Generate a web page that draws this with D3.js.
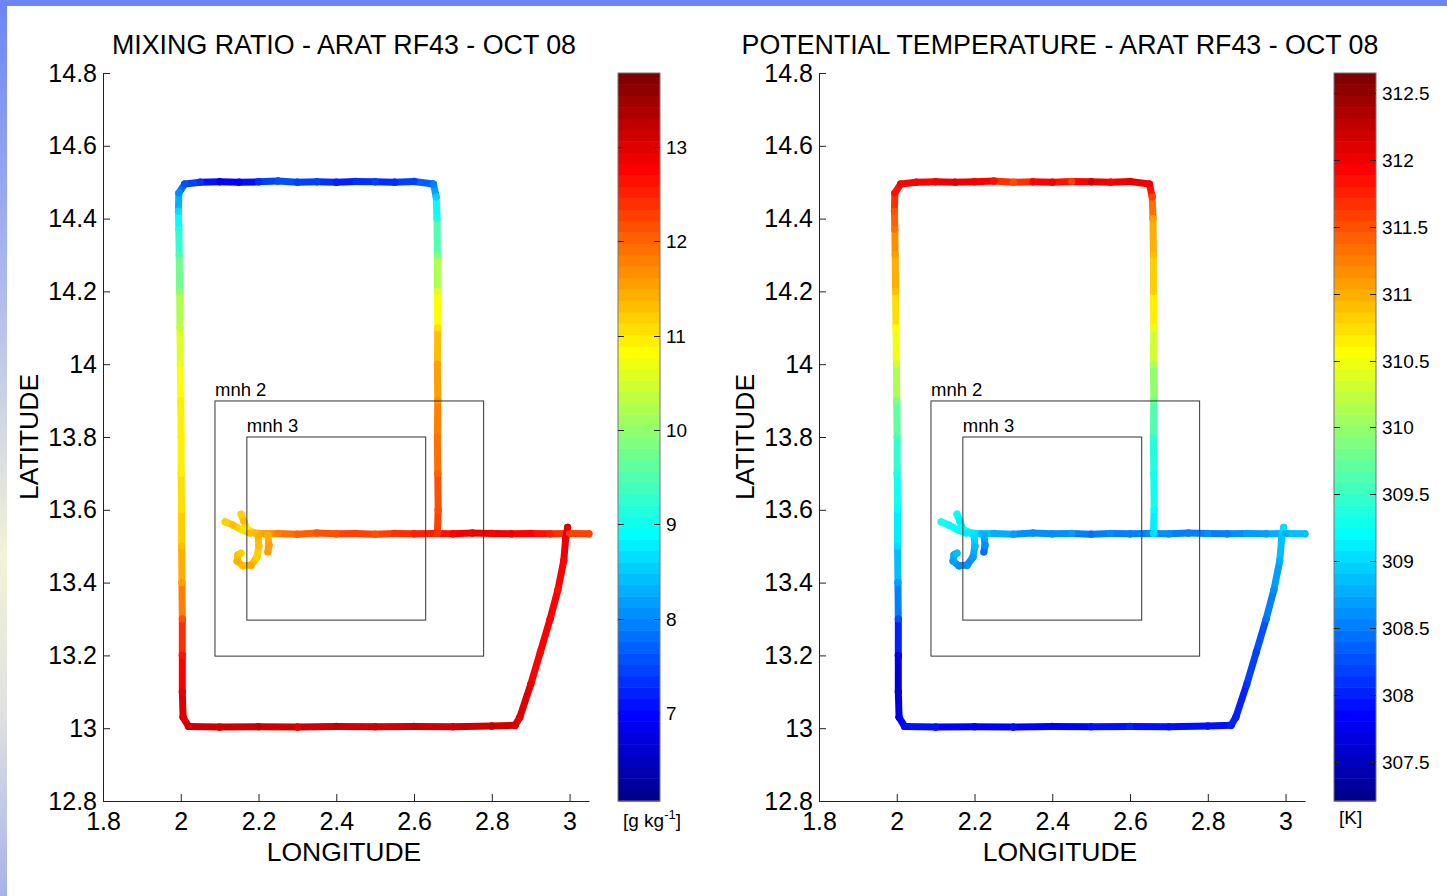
<!DOCTYPE html>
<html>
<head>
<meta charset="utf-8">
<script src="https://cdn.jsdelivr.net/npm/d3@7"></script>
<style>
  body { margin: 0; background: #fff; }
  svg { display: block; font-family: "Liberation Sans", Arial, Helvetica, sans-serif; }
</style>
</head>
<body>
<svg id="chart" width="1447" height="896"></svg>
<script>
// ---- Flight track (ARAT RF43, 8 Oct) ----
// leg id: consecutive samples with the same id are joined
const legId = [
  0,0,0,0,0,0,0,0,0,0,0,0,0,0,0,0,0,0,0,0,0,0,
  1,1,1,1,
  2,2,2,2,2,2,2,2,
  3,3,3,
  4,4,4,4,4,4,4,4,4,4,4,4,
  4,4,4,4,4,4,4,4,4,4,4,4,4,
  4,4,4,4,4,4,4,4,4,4,4,4,4,4,4,4,4,4,
  4,4,4,4,4,4,4,4,4,
  4,4,4,4,4,4,4,4
];
const trackLon = [
  2.155,2.162,2.170,2.191,2.217,2.25,2.30,2.35,2.40,2.45,2.50,2.55,2.60,2.65,2.70,2.75,2.80,2.85,2.90,2.95,3.00,3.05,
  2.114,2.134,2.157,2.178,
  2.199,2.201,2.196,2.181,2.160,2.145,2.147,2.155,
  2.224,2.227,2.224,
  2.660,2.662,2.661,2.660,2.661,2.660,2.661,2.660,2.660,2.659,2.657,2.650,
  2.60,2.55,2.50,2.45,2.40,2.35,2.30,2.25,2.20,2.15,2.10,2.05,2.01,
  1.995,1.994,1.995,1.996,1.997,1.998,1.999,2.000,2.001,2.001,2.002,2.002,2.003,2.004,2.004,2.004,2.006,2.02,
  2.10,2.20,2.30,2.40,2.50,2.60,2.70,2.80,2.86,
  2.872,2.90,2.925,2.95,2.97,2.985,2.990,2.995
];
const trackLat = [
  13.588,13.569,13.547,13.536,13.534,13.535,13.533,13.536,13.534,13.535,13.533,13.535,13.534,13.535,13.534,13.536,13.535,13.534,13.535,13.534,13.535,13.534,
  13.567,13.558,13.545,13.536,
  13.528,13.500,13.470,13.448,13.446,13.459,13.476,13.481,
  13.530,13.503,13.484,
  13.535,13.60,13.70,13.80,13.90,14.00,14.10,14.20,14.30,14.40,14.46,14.495,
  14.502,14.500,14.501,14.502,14.500,14.501,14.500,14.503,14.501,14.500,14.501,14.500,14.495,
  14.47,14.42,14.37,14.30,14.20,14.10,14.00,13.90,13.80,13.70,13.60,13.50,13.40,13.30,13.20,13.10,13.03,13.005,
  13.003,13.004,13.003,13.005,13.004,13.005,13.004,13.006,13.008,
  13.03,13.12,13.21,13.30,13.38,13.46,13.52,13.552
];
// water vapour mixing ratio [g/kg]
const mixingRatio = [
  11.2,11.3,10.9,11.3,11.6,11.8,12.0,12.1,12.2,12.3,12.2,12.4,12.5,12.5,12.8,12.9,12.8,12.9,12.7,12.5,12.3,12.3,
  11.2,11.3,11.1,11.3,
  11.4,11.3,11.2,11.4,11.3,11.4,11.3,11.2,
  11.4,11.5,11.6,
  12.4,12.2,12.0,11.9,11.7,11.5,11.1,10.6,9.9,9.2,8.5,7.9,
  7.5,7.3,7.4,7.3,7.2,7.4,7.5,7.6,7.3,7.0,6.9,7.3,7.6,
  8.0,8.6,9.1,9.5,10.0,10.4,10.7,10.9,10.9,11.0,11.1,11.3,11.6,12.1,12.6,12.9,13.0,13.1,
  13.1,13.2,13.0,13.2,13.1,13.2,13.1,13.2,13.1,
  13.0,12.9,12.7,12.8,12.6,12.8,12.9,13.0
];
// potential temperature [K]
const thetaK = [
  309.2,309.1,309.3,309.1,308.9,308.8,308.7,308.6,308.6,308.7,308.4,308.6,308.5,308.6,308.6,308.5,308.6,308.5,308.7,308.7,308.8,308.9,
  309.3,309.2,309.2,309.1,
  309.0,308.9,308.7,308.6,308.6,308.7,308.8,308.9,
  308.8,308.6,308.4,
  309.0,309.2,309.3,309.5,309.8,310.1,310.5,310.8,310.9,311.1,311.6,312.0,
  312.1,311.9,312.2,311.6,312.0,311.9,311.5,311.8,312.0,312.1,312.0,311.9,311.9,
  311.8,311.5,311.3,311.1,310.9,310.6,310.3,309.9,309.6,309.4,309.2,309.0,308.7,308.3,307.8,307.6,307.8,307.9,
  307.9,307.8,307.9,307.8,307.9,308.0,307.9,307.9,308.0,
  308.0,308.1,308.2,308.4,308.6,308.8,308.9,309.0
];

// ---- Model domains ----
const domainNames  = ["mnh 2", "mnh 3"];
const domainLonMin = [2.088, 2.170];
const domainLonMax = [2.779, 2.630];
const domainLatMin = [13.198, 13.297];
const domainLatMax = [13.899, 13.800];

// ---- Axes ticks ----
const lonTicks = [1.8, 2, 2.2, 2.4, 2.6, 2.8, 3];
const latTicks = [12.8, 13, 13.2, 13.4, 13.6, 13.8, 14, 14.2, 14.4, 14.6, 14.8];
const lonDomain = [1.8, 3.05];
const latDomain = [12.8, 14.8];

// ---- Colour bars ----
const mrRange = [6.067, 13.784];
const mrTicks = [7, 8, 9, 10, 11, 12, 13];
const thRange = [307.209, 312.649];
const thTicks = [307.5, 308, 308.5, 309, 309.5, 310, 310.5, 311, 311.5, 312, 312.5];

// 64-level jet colormap
function jetLevel(k) { // k = 1..64
  const r = k <= 24 ? 0 : k <= 40 ? (k - 24) / 16 : k <= 55 ? 1 : (16 - (k - 56)) / 16;
  const g = k <= 8 ? 0 : k <= 24 ? (k - 8) / 16 : k <= 39 ? 1 : k <= 55 ? (16 - (k - 40)) / 16 : 0;
  const b = k <= 8 ? (k + 8) / 16 : k <= 23 ? 1 : k <= 39 ? (16 - (k - 24)) / 16 : 0;
  return d3.rgb(Math.round(r * 255), Math.round(g * 255), Math.round(b * 255)).formatHex();
}
const jet = d3.range(1, 65).map(jetLevel);
const jetScale = range => d3.scaleQuantize().domain(range).range(jet);

const svg = d3.select("#chart");

// slide frame
const defs = svg.append("defs");
const grad = defs.append("linearGradient").attr("id", "frameGrad")
  .attr("x1", 0).attr("y1", 0).attr("x2", 0).attr("y2", 1);
[[0, "#6b85f4"], [0.3, "#aab6ee"], [0.62, "#f3f3d8"], [0.8, "#dfe0e0"], [1, "#a6b2ec"]]
  .forEach(([o, c]) => grad.append("stop").attr("offset", o).attr("stop-color", c));
svg.append("rect").attr("x", 0).attr("y", 0).attr("width", 7).attr("height", 896).attr("fill", "url(#frameGrad)");
svg.append("rect").attr("x", 0).attr("y", 0).attr("width", 1447).attr("height", 6).attr("fill", "#6d86f3");

const panels = [
  { left: 103, right: 589, cbLeft: 618, cbRight: 660,
    title: "MIXING RATIO - ARAT RF43 - OCT 08", values: mixingRatio,
    range: mrRange, ticks: mrTicks, unit: "g" },
  { left: 819, right: 1305, cbLeft: 1334, cbRight: 1376,
    title: "POTENTIAL TEMPERATURE - ARAT RF43 - OCT 08", values: thetaK,
    range: thRange, ticks: thTicks, unit: "K" }
];
const plotTop = 73, plotBottom = 801;

panels.forEach(p => {
  const x = d3.scaleLinear().domain(lonDomain).range([p.left, p.right]);
  const y = d3.scaleLinear().domain(latDomain).range([plotBottom, plotTop]);
  const color = jetScale(p.range);
  const g = svg.append("g");

  // flight track
  const trk = g.append("g");
  for (let i = 0; i < trackLon.length - 1; i++) {
    if (legId[i] !== legId[i + 1]) continue;
    trk.append("line")
      .attr("x1", x(trackLon[i])).attr("y1", y(trackLat[i]))
      .attr("x2", x(trackLon[i + 1])).attr("y2", y(trackLat[i + 1]))
      .attr("stroke", color((p.values[i] + p.values[i + 1]) / 2))
      .attr("stroke-width", 7).attr("stroke-linecap", "round");
  }
  trk.selectAll("circle").data(trackLon).join("circle")
    .attr("cx", (d, i) => x(d)).attr("cy", (d, i) => y(trackLat[i]))
    .attr("r", 3.6).attr("fill", (d, i) => color(p.values[i]));

  // model domains
  domainNames.forEach((name, i) => {
    g.append("rect")
      .attr("x", x(domainLonMin[i])).attr("y", y(domainLatMax[i]))
      .attr("width", x(domainLonMax[i]) - x(domainLonMin[i]))
      .attr("height", y(domainLatMin[i]) - y(domainLatMax[i]))
      .attr("fill", "none").attr("stroke", "#333").attr("stroke-width", 1);
    g.append("text").attr("x", x(domainLonMin[i])).attr("y", y(domainLatMax[i]) - 5)
      .attr("font-size", 18.5).attr("fill", "#000").text(name);
  });

  // axes
  const fmt = d => String(d);
  const xAxis = g.append("g").attr("transform", `translate(0,${plotBottom})`)
    .call(d3.axisBottom(x).tickValues(lonTicks).tickFormat(fmt).tickSizeInner(-7).tickSizeOuter(0).tickPadding(11));
  const yAxis = g.append("g").attr("transform", `translate(${p.left},0)`)
    .call(d3.axisLeft(y).tickValues(latTicks).tickFormat(fmt).tickSizeInner(-7).tickSizeOuter(0).tickPadding(6));
  [xAxis, yAxis].forEach(a => {
    a.selectAll("path,line").attr("stroke", "#222");
    a.selectAll("text").attr("font-size", 25).attr("fill", "#000");
    a.attr("font-family", null);
  });

  // titles
  const cx = (p.left + p.right) / 2;
  g.append("text").attr("x", cx - 2).attr("y", 54).attr("text-anchor", "middle")
    .attr("font-size", 26.8).text(p.title);
  g.append("text").attr("x", cx - 2).attr("y", 861).attr("text-anchor", "middle")
    .attr("font-size", 26.5).text("LONGITUDE");
  g.append("text").attr("transform", `translate(${p.left - 65},${(plotTop + plotBottom) / 2}) rotate(-90)`)
    .attr("text-anchor", "middle").attr("font-size", 26.5).text("LATITUDE");

  // colour bar
  const cb = d3.scaleLinear().domain(p.range).range([plotBottom, plotTop]);
  const step = (p.range[1] - p.range[0]) / 64;
  const cbg = g.append("g");
  cbg.selectAll("rect.band").data(jet).join("rect").attr("class", "band")
    .attr("x", p.cbLeft).attr("width", p.cbRight - p.cbLeft)
    .attr("y", (d, i) => cb(p.range[0] + (i + 1) * step))
    .attr("height", (d, i) => cb(p.range[0] + i * step) - cb(p.range[0] + (i + 1) * step) + 0.5)
    .attr("fill", d => d);
  cbg.append("rect").attr("x", p.cbLeft).attr("y", plotTop)
    .attr("width", p.cbRight - p.cbLeft).attr("height", plotBottom - plotTop)
    .attr("fill", "none").attr("stroke", "#777").attr("stroke-width", 1);
  p.ticks.forEach(t => {
    const ty = Math.round(cb(t)) + 0.5;
    cbg.append("line").attr("x1", p.cbLeft).attr("x2", p.cbLeft + 6).attr("y1", ty).attr("y2", ty).attr("stroke", "#222");
    cbg.append("line").attr("x1", p.cbRight - 6).attr("x2", p.cbRight).attr("y1", ty).attr("y2", ty).attr("stroke", "#222");
    cbg.append("text").attr("x", p.cbRight + 6).attr("y", ty).attr("dy", "0.35em")
      .attr("font-size", 19).text(String(t));
  });
  const unit = cbg.append("text").attr("x", p.cbLeft + 5).attr("y", 827).attr("font-size", 19);
  if (p.unit === "g") {
    unit.append("tspan").text("[g kg");
    unit.append("tspan").attr("dy", -8).attr("font-size", 13).text("-1");
    unit.append("tspan").attr("dy", 8).text("]");
  } else {
    unit.attr("x", p.cbLeft + 5).attr("y", 824).text("[K]");
  }
});
</script>
</body>
</html>
